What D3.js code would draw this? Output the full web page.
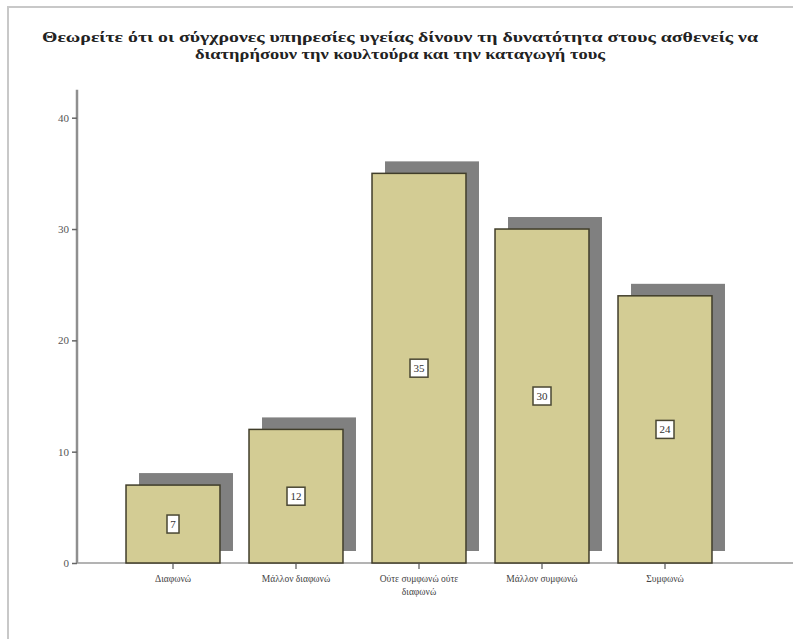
<!DOCTYPE html>
<html><head><meta charset="utf-8">
<script src="https://cdn.jsdelivr.net/npm/d3@7"></script>
<style>body{margin:0;background:#fff}</style>
</head><body>
<svg id="c" width="793" height="639"></svg>
<script>
const titleLines = ["Θεωρείτε ότι οι σύγχρονες υπηρεσίες υγείας δίνουν τη δυνατότητα στους ασθενείς να",
                    "διατηρήσουν την κουλτούρα και την καταγωγή τους"];
const categories = ["Διαφωνώ", "Μάλλον διαφωνώ", "Ούτε συμφωνώ ούτε διαφωνώ", "Μάλλον συμφωνώ", "Συμφωνώ"];
const categoryLines = [["Διαφωνώ"], ["Μάλλον διαφωνώ"], ["Ούτε συμφωνώ ούτε", "διαφωνώ"], ["Μάλλον συμφωνώ"], ["Συμφωνώ"]];
const values = [7, 12, 35, 30, 24];
const yTicks = [0, 10, 20, 30, 40];

const svg = d3.select("#c");
const serif = "'Liberation Serif','DejaVu Serif',serif";

// frame
svg.append("rect").attr("x", 8).attr("y", 7).attr("width", 820).attr("height", 700)
  .attr("fill", "none").attr("stroke", "#c8c8c8").attr("stroke-width", 2);

// title
svg.append("text").attr("x", 400).attr("y", 42).attr("text-anchor", "middle")
  .attr("font-family", serif).attr("font-weight", "bold").attr("font-size", 14)
  .attr("fill", "#222").attr("textLength", 716).attr("lengthAdjust", "spacingAndGlyphs")
  .text(titleLines[0]);
svg.append("text").attr("x", 400).attr("y", 59).attr("text-anchor", "middle")
  .attr("font-family", serif).attr("font-weight", "bold").attr("font-size", 14)
  .attr("fill", "#222").attr("textLength", 410).attr("lengthAdjust", "spacingAndGlyphs")
  .text(titleLines[1]);

const y = d3.scaleLinear().domain([0, 40]).range([563, 117.7]);
const x = d3.scaleBand().domain(categories).range([111.5, 726.5]).paddingInner(0.236).paddingOuter(0.118);

const axisX = 77;
// y axis line
svg.append("line").attr("x1", axisX).attr("x2", axisX).attr("y1", y(42.5)).attr("y2", y(0))
  .attr("stroke", "#8f8f8f").attr("stroke-width", 2.5);
// x axis line
svg.append("line").attr("x1", axisX).attr("x2", 793).attr("y1", y(0)).attr("y2", y(0))
  .attr("stroke", "#9a9a9a").attr("stroke-width", 1.5);

// y axis ticks via d3 axis
const yAxis = svg.append("g").attr("transform", `translate(${axisX},0)`)
  .call(d3.axisLeft(y).tickValues(yTicks).tickSize(5).tickPadding(3).tickFormat(d3.format("d")));
yAxis.select(".domain").remove();
yAxis.selectAll("line").attr("stroke", "#666").attr("stroke-width", 1.5);
yAxis.selectAll("text").attr("font-family", serif).attr("font-size", 11).attr("fill", "#555");

// bars
const g = svg.append("g");
const sdx = 13, sdy = -12;
g.selectAll("rect.shadow").data(values).join("rect").attr("class", "shadow")
  .attr("x", (d, i) => x(categories[i]) + sdx).attr("y", d => y(d) + sdy)
  .attr("width", x.bandwidth()).attr("height", d => y(0) - y(d))
  .attr("fill", "#808080");
g.selectAll("rect.bar").data(values).join("rect").attr("class", "bar")
  .attr("x", (d, i) => x(categories[i])).attr("y", d => y(d))
  .attr("width", x.bandwidth()).attr("height", d => y(0) - y(d))
  .attr("fill", "#d3cc94").attr("stroke", "#403d2a").attr("stroke-width", 1.5);

// value labels
values.forEach((v, i) => {
  const cx = x(categories[i]) + x.bandwidth() / 2;
  const cy = y(v / 2);
  const w = String(v).length > 1 ? 18 : 12;
  svg.append("rect").attr("x", cx - w / 2).attr("y", cy - 9).attr("width", w).attr("height", 18)
    .attr("fill", "#fff").attr("stroke", "#4a4733").attr("stroke-width", 1.5);
  svg.append("text").attr("x", cx).attr("y", cy + 4).attr("text-anchor", "middle")
    .attr("font-family", serif).attr("font-size", 11).attr("fill", "#333").text(v);
});

// x ticks and labels
categories.forEach((c, i) => {
  const cx = x(c) + x.bandwidth() / 2;
  svg.append("line").attr("x1", cx).attr("x2", cx).attr("y1", y(0)).attr("y2", y(0) + 6)
    .attr("stroke", "#555").attr("stroke-width", 1.2);
  categoryLines[i].forEach((ln, j) => {
    svg.append("text").attr("x", cx).attr("y", 582 + j * 13).attr("text-anchor", "middle")
      .attr("font-family", serif).attr("font-size", 9.5).attr("fill", "#444").text(ln);
  });
});
</script>
</body></html>
